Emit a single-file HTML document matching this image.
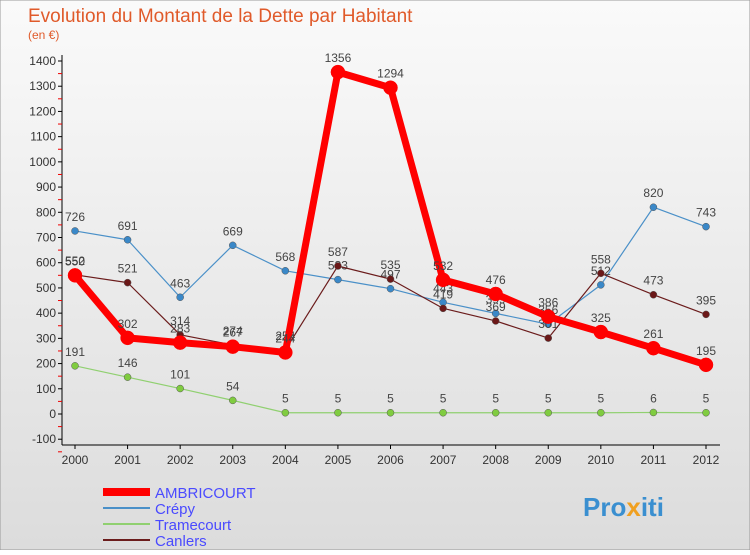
<!DOCTYPE html>
<html><head><meta charset="utf-8"><style>
body{margin:0;width:750px;height:550px;overflow:hidden;font-family:"Liberation Sans",sans-serif}
</style></head><body>
<svg id="chart" width="750" height="550" xmlns="http://www.w3.org/2000/svg" font-family="Liberation Sans, sans-serif">
<defs><linearGradient id="bg" x1="0" y1="0" x2="0" y2="1"><stop offset="0" stop-color="#fafafa"/><stop offset="1" stop-color="#dcdcdc"/></linearGradient></defs>
<rect width="750" height="550" fill="url(#bg)" stroke="#999"/>
<text x="28" y="22" font-size="19" fill="#e05a2a">Evolution du Montant de la Dette par Habitant</text>
<text x="28" y="39" font-size="12" fill="#e05a2a">(en €)</text>
<g id="axes"></g><g id="series"></g>
<g font-size="15">
<line x1="103" y1="492" x2="150" y2="492" stroke="#f00" stroke-width="8"/>
<text x="155" y="498" fill="#4a4aff">AMBRICOURT</text>
<line x1="103" y1="508" x2="150" y2="508" stroke="#4a90c8" stroke-width="2"/>
<text x="155" y="514" fill="#4a4aff">Crépy</text>
<line x1="103" y1="524" x2="150" y2="524" stroke="#90d070" stroke-width="2"/>
<text x="155" y="530" fill="#4a4aff">Tramecourt</text>
<line x1="103" y1="540" x2="150" y2="540" stroke="#6b1c1c" stroke-width="2"/>
<text x="155" y="546" fill="#4a4aff">Canlers</text>
</g>
<text x="583" y="516" font-size="26" font-weight="bold" fill="#3a8fd0">Pro<tspan fill="#f0a020">x</tspan>iti</text>
</svg>
<script>
const years=[2000,2001,2002,2003,2004,2005,2006,2007,2008,2009,2010,2011,2012];
const yTicks=[-100,0,100,200,300,400,500,600,700,800,900,1000,1100,1200,1300,1400];
const ambricourt=[550,302,283,267,244,1356,1294,532,476,386,325,261,195];
const crepy=[726,691,463,669,568,533,497,443,399,356,512,820,743];
const tramecourt=[191,146,101,54,5,5,5,5,5,5,5,6,5];
const canlers=[552,521,314,274,254,587,535,419,369,301,558,473,395];
const NS="http://www.w3.org/2000/svg";
const X=i=>75+i*(706-75)/12;
const Y=v=>414-v*(414-61)/1400;
function mk(t,a,p){const e=document.createElementNS(NS,t);for(const k in a)e.setAttribute(k,a[k]);p.appendChild(e);return e;}
const ax=document.getElementById('axes');
const yl=mk('line',{x1:62,y1:55,x2:62,y2:445,stroke:'#000'},ax);


const xl=mk('line',{x1:62,y1:445,x2:720,y2:445,stroke:'#000'},ax);


yTicks.forEach(v=>{
  const y=Y(v);
  mk('line',{x1:58,y1:y,x2:62,y2:y,stroke:'#000'},ax);
  mk('line',{x1:58,y1:y+12.6,x2:62,y2:y+12.6,stroke:'#e00'},ax);
  const t=mk('text',{x:56,y:y+4,'font-size':12,'text-anchor':'end',fill:'#333'},ax);
  t.textContent=v;
  
  
});
years.forEach((yr,i)=>{
  mk('line',{x1:X(i),y1:445,x2:X(i),y2:449,stroke:'#000'},ax);
  const t=mk('text',{x:X(i),y:464,'font-size':12,'text-anchor':'middle',fill:'#333'},ax);
  t.textContent=yr;
  
  
});
const sg=document.getElementById('series');
function draw(name,data,color,w,r,fill){
  const g=mk('g',{},sg);
  
  
  const pl=mk('polyline',{points:data.map((v,i)=>X(i)+','+Y(v)).join(' '),fill:'none',stroke:color,'stroke-width':w,'stroke-linejoin':'round'},g);
  
  
  data.forEach((v,i)=>{
    const c=mk('circle',{cx:X(i),cy:Y(v),r:r,fill:fill,stroke:color==='#f00'?'#f00':'#555','stroke-width':0.5},g);
    
    
    const t=mk('text',{x:X(i),y:Y(v)-10,'font-size':12,'text-anchor':'middle',fill:'#444'},g);
    t.textContent=v;
    
    
  });
}
draw('crepy',crepy,'#4a90c8',1.2,3.5,'#3a88c8');
draw('tramecourt',tramecourt,'#90d070',1.2,3.5,'#80cc40');
draw('canlers',canlers,'#6b1c1c',1.2,3.5,'#6b1818');
draw('ambricourt',ambricourt,'#f00',7,7,'#f00');
</script>
</body></html>
